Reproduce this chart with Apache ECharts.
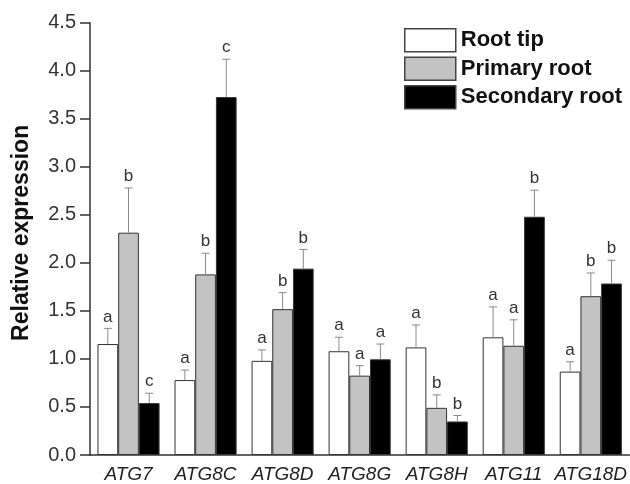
<!DOCTYPE html>
<html>
<head>
<meta charset="utf-8">
<script src="https://cdn.jsdelivr.net/npm/echarts@6/dist/echarts.min.js"></script>
<style>html,body{margin:0;padding:0;background:#fff}#c{width:630px;height:484px}</style>
</head>
<body>
<div id="c"></div>
<script>
var categories = ['ATG7', 'ATG8C', 'ATG8D', 'ATG8G', 'ATG8H', 'ATG11', 'ATG18D'];
var seriesNames = ['Root tip', 'Primary root', 'Secondary root'];
var rootTip = [1.155, 0.78, 0.98, 1.08, 1.12, 1.225, 0.868];
var rootTipErr = [0.163, 0.104, 0.114, 0.146, 0.234, 0.317, 0.103];
var rootTipSig = ['a', 'a', 'a', 'a', 'a', 'a', 'a'];
var primaryRoot = [2.314, 1.88, 1.518, 0.826, 0.491, 1.137, 1.653];
var primaryRootErr = [0.466, 0.22, 0.172, 0.104, 0.135, 0.27, 0.242];
var primaryRootSig = ['b', 'b', 'b', 'a', 'b', 'a', 'b'];
var secondaryRoot = [0.54, 3.726, 1.94, 0.996, 0.349, 2.48, 1.785];
var secondaryRootErr = [0.103, 0.394, 0.2, 0.159, 0.062, 0.276, 0.242];
var secondaryRootSig = ['c', 'c', 'b', 'a', 'b', 'b', 'b'];
var yTicks = [0, 0.5, 1.0, 1.5, 2.0, 2.5, 3.0, 3.5, 4.0, 4.5];

var FONT = '"Liberation Sans", Arial, Helvetica, sans-serif';
var fills = ['#ffffff', '#c3c3c3', '#000000'];
var vals = [rootTip, primaryRoot, secondaryRoot];
var errs = [rootTipErr, primaryRootErr, secondaryRootErr];
var sigs = [rootTipSig, primaryRootSig, secondaryRootSig];
var CAT_GAP = 0.194;

var series = [];
for (var s = 0; s < 3; s++) {
  series.push({
    name: seriesNames[s],
    type: 'bar',
    data: vals[s],
    barGap: '0%',
    barCategoryGap: (CAT_GAP * 100) + '%',
    itemStyle: { color: fills[s], borderColor: '#333', borderWidth: 1 },
    emphasis: { disabled: true },
    z: 2
  });
}
for (var s2 = 0; s2 < 3; s2++) {
  (function (si) {
    var data = vals[si].map(function (v, i) { return [i, v, errs[si][i], sigs[si][i]]; });
    series.push({
      type: 'custom',
      data: data,
      encode: { x: 0, y: 1 },
      z: 5,
      silent: true,
      renderItem: function (params, api) {
        var ci = api.value(0), v = api.value(1), e = api.value(2);
        var letter = data[params.dataIndex][3];
        var catW = api.size([1, 0])[0];
        var barW = catW * (1 - CAT_GAP) / 3;
        var base = api.coord([ci, v]);
        var top = api.coord([ci, v + e]);
        var x = base[0] + (si - 1) * barW;
        var capHalf = 4;
        return {
          type: 'group',
          children: [
            { type: 'line', shape: { x1: x, y1: base[1], x2: x, y2: top[1] }, style: { stroke: '#8a8a8a', lineWidth: 1 } },
            { type: 'line', shape: { x1: x - capHalf, y1: top[1], x2: x + capHalf, y2: top[1] }, style: { stroke: '#8a8a8a', lineWidth: 1 } },
            { type: 'text', style: { text: letter, x: x, y: top[1] - 3, align: 'center', verticalAlign: 'bottom', font: '17px ' + FONT, fill: '#333' } }
          ]
        };
      }
    });
  })(s2);
}

var chart = echarts.init(document.getElementById('c'), null, { renderer: 'canvas' });
chart.setOption({
  animation: false,
  backgroundColor: '#fff',
  grid: { left: 90, right: 0, top: 22.7, bottom: 27.7, containLabel: false },
  legend: {
    data: seriesNames,
    orient: 'vertical',
    left: 399,
    top: 23,
    itemWidth: 51,
    itemHeight: 23,
    itemGap: 4,
    icon: 'rect',
    selectedMode: false,
    itemStyle: { borderColor: '#444', borderWidth: 1.5 },
    textStyle: { fontFamily: FONT, fontSize: 22, fontWeight: 'bold', color: '#111', padding: [0, 0, 0, 0] }
  },
  xAxis: {
    type: 'category',
    data: categories,
    axisLine: { lineStyle: { color: '#333', width: 1.5 } },
    axisTick: { show: false },
    axisLabel: { fontFamily: FONT, fontSize: 19, fontStyle: 'italic', color: '#222', margin: 10, interval: 0 }
  },
  yAxis: {
    type: 'value',
    min: 0,
    max: 4.5,
    interval: 0.5,
    name: 'Relative expression',
    nameLocation: 'middle',
    nameGap: 57,
    nameTextStyle: { fontFamily: FONT, fontSize: 23, fontWeight: 'bold', color: '#111', padding: [0, 0, 0, 12] },
    axisLine: { show: true, lineStyle: { color: '#333', width: 1.5 } },
    axisTick: { show: true, length: 10, lineStyle: { color: '#333', width: 1.5 } },
    splitLine: { show: false },
    axisLabel: {
      fontFamily: FONT, fontSize: 20, color: '#333', margin: 14,
      formatter: function (v) { return v.toFixed(1); }
    }
  },
  series: series
});
</script>
</body>
</html>
